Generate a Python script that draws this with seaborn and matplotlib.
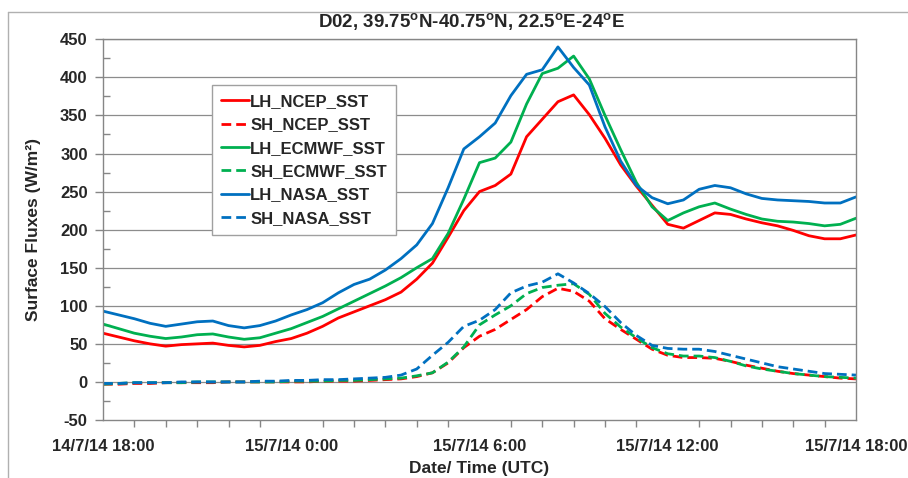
import numpy as np
import pandas as pd
import matplotlib
matplotlib.use("Agg")
import matplotlib.pyplot as plt
import seaborn as sns
from matplotlib.lines import Line2D
from matplotlib.ticker import MultipleLocator

# ---------------- data (hours since 14/7/14 18:00, 30-min steps) ----------------
hours = [i * 0.5 for i in range(49)]

lh_ncep = [64, 59, 54, 50, 47, 49, 50, 51, 48, 46, 48, 53, 57, 64, 73, 84, 92, 100, 108, 118,
           135, 156, 190, 225, 250, 258, 273, 322, 345, 368, 377, 351, 320, 285, 257, 232, 207, 202,
           212, 222, 220, 214, 209, 205, 199, 192, 188, 188, 193]
sh_ncep = [-3, -3, -2, -2, -1, -1, -1, -1, 0, 0, 0, 0, 0, 0, 1, 1, 1, 2, 3, 4,
           7, 12, 25, 45, 60, 69, 82, 95, 112, 123, 119, 106, 83, 69, 56, 43, 35, 32,
           32, 31, 27, 22, 18, 14, 11, 9, 7, 5, 4]
lh_ecmwf = [76, 70, 64, 60, 57, 59, 62, 63, 59, 56, 58, 64, 70, 78, 86, 96, 106, 116, 126, 137,
            150, 162, 195, 240, 288, 294, 315, 365, 405, 412, 428, 398, 350, 305, 262, 230, 212, 222,
            230, 235, 227, 220, 214, 211, 210, 208, 205, 207, 215]
sh_ecmwf = [-3, -2, -1, -1, -1, -1, 0, 0, 0, 0, 0, 0, 1, 1, 1, 2, 2, 3, 4, 5,
            8, 12, 26, 46, 75, 88, 100, 116, 124, 127, 129, 115, 90, 72, 58, 45, 37, 34,
            34, 32, 27, 21, 17, 14, 11, 9, 7, 6, 5]
lh_nasa = [93, 88, 83, 77, 73, 76, 79, 80, 74, 71, 74, 80, 88, 95, 104, 117, 128, 135, 147, 162,
           180, 208, 255, 306, 322, 340, 376, 404, 410, 440, 413, 390, 335, 290, 258, 242, 234, 239,
           253, 258, 255, 247, 241, 239, 238, 237, 235, 235, 243]
sh_nasa = [-2, -2, -1, -1, -1, 0, 0, 0, 0, 0, 1, 1, 2, 2, 3, 3, 4, 5, 6, 9,
           17, 35, 52, 73, 81, 95, 117, 126, 131, 142, 130, 116, 99, 78, 61, 48, 44, 43,
           43, 40, 35, 30, 25, 20, 17, 14, 11, 10, 9]

series_names = ["LH_NCEP_SST", "SH_NCEP_SST", "LH_ECMWF_SST",
                "SH_ECMWF_SST", "LH_NASA_SST", "SH_NASA_SST"]
series_values = [lh_ncep, sh_ncep, lh_ecmwf, sh_ecmwf, lh_nasa, sh_nasa]

x_tick_pos = [0, 6, 12, 18, 24]
x_tick_labels = ["14/7/14 18:00", "15/7/14 0:00", "15/7/14 6:00", "15/7/14 12:00", "15/7/14 18:00"]
y_ticks = list(range(-50, 451, 50))

title = "D02, 39.75$^{\\mathbf{o}}$N-40.75$^{\\mathbf{o}}$N, 22.5$^{\\mathbf{o}}$E-24$^{\\mathbf{o}}$E"

# ---------------- styling ----------------
FONT = ["Liberation Sans", "DejaVu Sans"]
sns.set_theme(style="white")
plt.rcParams["font.family"] = FONT
plt.rcParams["font.weight"] = "bold"
plt.rcParams["mathtext.fontset"] = "custom"
plt.rcParams["mathtext.rm"] = "Liberation Sans:bold"
plt.rcParams["mathtext.bf"] = "Liberation Sans:bold"
plt.rcParams["mathtext.default"] = "bf"

colors = {"NCEP": "#FF0000", "ECMWF": "#00B050", "NASA": "#0070C0"}
gray = "#868686"
dash = (0, (3.5, 1.8))

rows = []
for name, vals in zip(series_names, series_values):
    for h, v in zip(hours, vals):
        rows.append({"time": h, "flux": v, "series": name})
df = pd.DataFrame(rows)

fig = plt.figure(figsize=(9.08, 4.78), dpi=100)
ax = fig.add_axes([103 / 908, 1 - 420 / 478, (856 - 103) / 908, (420 - 39.3) / 478])

# gridlines
for yv in y_ticks[1:]:
    ax.axhline(yv, color="#8c8c8c", lw=0.9, zorder=0)

for name in series_names:
    sub = df[df["series"] == name]
    key = name.split("_")[1]
    ls = "-" if name.startswith("LH") else dash
    sns.lineplot(data=sub, x="time", y="flux", ax=ax, color=colors[key],
                 linewidth=2.0, linestyle=ls, sort=False, estimator=None, legend=False)

ax.set_xlim(0, 24)
ax.set_ylim(-50, 450)
ax.set_xticks(x_tick_pos)
ax.set_xticklabels(x_tick_labels, fontsize=12, fontweight="bold")
ax.xaxis.set_minor_locator(MultipleLocator(1))
ax.set_yticks(y_ticks)
ax.set_yticklabels([str(t) for t in y_ticks], fontsize=12, fontweight="bold")
ax.yaxis.set_minor_locator(MultipleLocator(25))

ax.tick_params(axis="x", which="major", direction="inout", length=10, width=1, color=gray, pad=9)
ax.tick_params(axis="x", which="minor", direction="out", length=5, width=1, color=gray, bottom=True)
ax.tick_params(axis="y", which="major", direction="out", length=6, width=1, color=gray, pad=5, left=True)
ax.tick_params(axis="y", which="minor", direction="in", length=5, width=1, color=gray, left=True)

for sp in ax.spines.values():
    sp.set_visible(True)
    sp.set_color(gray)
    sp.set_linewidth(1)

ax.set_xlabel("Date/ Time (UTC)", fontsize=12.5, fontweight="bold", labelpad=5)
ax.set_ylabel("Surface Fluxes (W/m²)", fontsize=12.5, fontweight="bold", labelpad=14)

fig.text(472 / 908, 1 - 21 / 478, title, ha="center", va="center", fontsize=13.5, fontweight="bold")

# legend
handles = []
for name in series_names:
    key = name.split("_")[1]
    ls = "-" if name.startswith("LH") else dash
    handles.append(Line2D([0], [0], color=colors[key], lw=2.0, linestyle=ls))
leg = ax.legend(handles, series_names, loc="upper left",
                bbox_to_anchor=((212 - 103) / 753, (420 - 85) / 380.7),
                frameon=True, fancybox=False, framealpha=1, edgecolor="#a0a0a0",
                handlelength=1.65, handletextpad=0.1, labelspacing=0.5,
                borderpad=0.55, borderaxespad=0,
                prop={"family": FONT, "weight": "bold", "size": 12})
leg.get_frame().set_linewidth(1)

# outer chart border (left and top)
fig.add_artist(Line2D([8 / 908, 8 / 908], [0, 1 - 12 / 478], transform=fig.transFigure, color="#b0b0b0", lw=1))
fig.add_artist(Line2D([8 / 908, 1], [1 - 12 / 478, 1 - 12 / 478], transform=fig.transFigure, color="#b0b0b0", lw=1))

fig.savefig("out.png", dpi=100)
